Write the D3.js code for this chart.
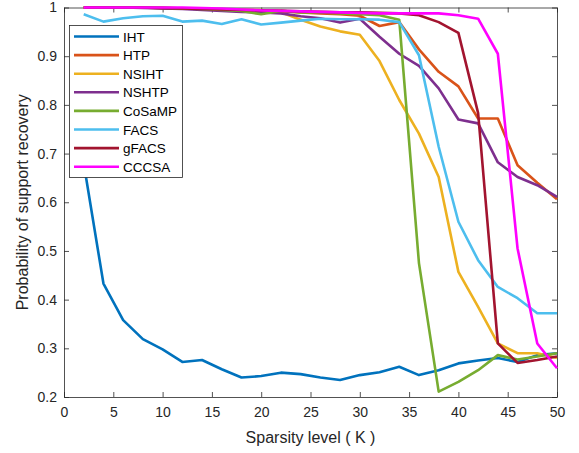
<!DOCTYPE html>
<html>
<head>
<meta charset="utf-8">
<script src="https://cdn.jsdelivr.net/npm/d3@7"></script>
<style>
  body { margin: 0; background: #fff; }
  svg { display: block; font-family: "Liberation Sans", Arial, sans-serif; }
</style>
</head>
<body>
<svg id="chart" width="579" height="453"></svg>
<script>
// sparsity levels K
var sparsity = [2,4,6,8,10,12,14,16,18,20,22,24,26,28,30,32,34,36,38,40,42,44,46,48,50];

var iht    = [0.68,0.433,0.358,0.319,0.298,0.272,0.276,0.257,0.240,0.243,0.250,0.247,0.240,0.235,0.245,0.251,0.262,0.245,0.255,0.269,0.275,0.280,0.272,0.286,0.290];
var htp    = [1.0,1.0,1.0,1.0,0.998,0.998,0.997,0.996,0.995,0.994,0.993,0.990,0.988,0.986,0.983,0.962,0.970,0.914,0.868,0.838,0.772,0.772,0.676,0.640,0.606];
var nsiht  = [1.0,1.0,1.0,1.0,1.0,0.998,0.997,0.996,0.995,0.995,0.990,0.975,0.961,0.951,0.944,0.890,0.810,0.741,0.652,0.457,0.385,0.310,0.290,0.290,0.280];
var nshtp  = [1.0,1.0,1.0,0.999,0.998,0.997,0.995,0.993,0.991,0.990,0.988,0.982,0.978,0.969,0.977,0.940,0.905,0.880,0.834,0.770,0.762,0.682,0.652,0.635,0.611];
var cosamp = [1.0,1.0,1.0,1.0,1.0,0.998,0.997,0.995,0.993,0.986,0.993,0.990,0.990,0.988,0.986,0.984,0.975,0.475,0.211,0.231,0.255,0.286,0.277,0.283,0.290];
var facs   = [0.986,0.971,0.978,0.982,0.983,0.971,0.973,0.966,0.976,0.965,0.969,0.973,0.977,0.976,0.976,0.975,0.970,0.902,0.714,0.560,0.481,0.426,0.403,0.372,0.372];
var gfacs  = [1.0,1.0,1.0,1.0,0.999,0.998,0.997,0.996,0.995,0.994,0.993,0.992,0.991,0.990,0.990,0.989,0.988,0.984,0.970,0.948,0.783,0.310,0.270,0.276,0.283];
var cccsa  = [1.0,1.0,1.0,1.0,1.0,1.0,0.999,0.998,0.996,0.994,0.993,0.992,0.991,0.990,0.989,0.988,0.988,0.988,0.988,0.984,0.977,0.905,0.505,0.310,0.259];

var seriesNames = ["IHT","HTP","NSIHT","NSHTP","CoSaMP","FACS","gFACS","CCCSA"];
var seriesColors = ["#0072BD","#D95319","#EDB120","#7E2F8E","#77AC30","#4DBEEE","#A2142F","#FF00FF"];
var seriesValues = [iht, htp, nsiht, nshtp, cosamp, facs, gfacs, cccsa];

var xTicks = [0,5,10,15,20,25,30,35,40,45,50];
var yTicks = [0.2,0.3,0.4,0.5,0.6,0.7,0.8,0.9,1];

var svg = d3.select("#chart");
var pLeft = 64, pRight = 557, pTop = 7.5, pBottom = 397;
var axisColor = "#262626";

var x = d3.scaleLinear().domain([0,50]).range([pLeft,pRight]);
var y = d3.scaleLinear().domain([0.2,1]).range([pBottom,pTop]);

// axes (ticks inward, mirrored on top/right)
var gx = svg.append("g").attr("transform","translate(0,"+pBottom+")")
	.call(d3.axisBottom(x).tickValues(xTicks).tickSizeInner(-5).tickSizeOuter(0).tickPadding(10).tickFormat(d3.format("d")));
var gxTop = svg.append("g").attr("transform","translate(0,"+pTop+")")
	.call(d3.axisTop(x).tickValues(xTicks).tickSizeInner(-5).tickSizeOuter(0).tickFormat(""));
var gy = svg.append("g").attr("transform","translate("+pLeft+",0)")
	.call(d3.axisLeft(y).tickValues(yTicks).tickSizeInner(-5).tickSizeOuter(0).tickPadding(7).tickFormat(function(d){ return d===1 ? "1" : d3.format(".1f")(d); }));
var gyRight = svg.append("g").attr("transform","translate("+pRight+",0)")
	.call(d3.axisRight(y).tickValues(yTicks).tickSizeInner(-5).tickSizeOuter(0).tickFormat(""));

[gx,gxTop,gy,gyRight].forEach(function(g){
	g.select(".domain").attr("stroke",axisColor).attr("stroke-width",0.8);
	g.selectAll(".tick line").attr("stroke",axisColor).attr("stroke-width",0.8);
	g.selectAll(".tick text").attr("fill",axisColor).attr("font-size",14).attr("font-family","Liberation Sans, Arial, sans-serif");
});

// axis labels
svg.append("text")
	.attr("x",(pLeft+pRight)/2).attr("y",443)
	.attr("text-anchor","middle").attr("font-size",16).attr("fill",axisColor)
	.text("Sparsity level ( K )");
svg.append("text")
	.attr("transform","translate(28,"+((pTop+pBottom)/2)+") rotate(-90)")
	.attr("text-anchor","middle").attr("font-size",16).attr("fill",axisColor)
	.text("Probability of support recovery");

// lines
var line = d3.line()
	.x(function(d,i){ return x(sparsity[i]); })
	.y(function(d){ return y(d); });

svg.append("g").selectAll("path")
	.data(seriesValues)
	.enter().append("path")
	.attr("d",line)
	.attr("fill","none")
	.attr("stroke",function(d,i){ return seriesColors[i]; })
	.attr("stroke-width",2.6)
	.attr("stroke-linejoin","round");

// legend
var lg = svg.append("g");
lg.append("rect")
	.attr("x",69.5).attr("y",25.5).attr("width",113).attr("height",152)
	.attr("fill","#fff").attr("stroke",axisColor).attr("stroke-width",0.8);
var rows = lg.selectAll("g.row").data(seriesNames).enter().append("g")
	.attr("class","row")
	.attr("transform",function(d,i){ return "translate(0,"+(36.5+i*18.6)+")"; });
rows.append("line")
	.attr("x1",74).attr("x2",119).attr("y1",0).attr("y2",0)
	.attr("stroke",function(d,i){ return seriesColors[i]; })
	.attr("stroke-width",2.6);
rows.append("text")
	.attr("x",123).attr("y",5)
	.attr("font-size",13.5).attr("fill","#000")
	.text(function(d){ return d; });
</script>
</body>
</html>
